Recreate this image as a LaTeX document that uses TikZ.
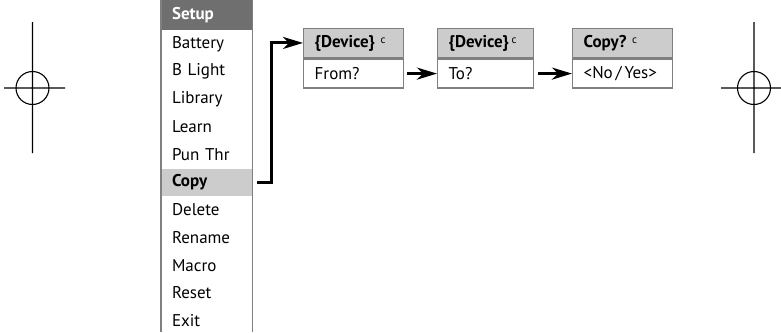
\documentclass[tikz,border=0pt]{standalone}
\usepackage{fontspec}
\setmainfont{PT Sans}
\usepackage{tikz}
\usetikzlibrary{positioning,arrows.meta}
\definecolor{headgray}{HTML}{6F6F6F}
\definecolor{lightgray}{HTML}{CCCCCC}
\definecolor{framegray}{HTML}{808080}
\newcommand{\menufont}{\fontsize{17}{19}\selectfont}
\tikzstyle{menuitem} = [minimum width=91pt, minimum height=27.3pt, text width=69pt, inner xsep=11pt, inner ysep=0pt, align=left, anchor=north, font=\menufont]
\tikzstyle{screenhead} = [draw=framegray, line width=1.4pt, fill=lightgray, minimum height=29.5pt, inner xsep=11pt, inner ysep=0pt, anchor=north west, align=left, font=\menufont\bfseries]
\tikzstyle{screenbody} = [draw=framegray, line width=1.4pt, minimum height=29pt, inner xsep=11pt, inner ysep=0pt, anchor=north, align=left, font=\menufont]
\tikzstyle{link} = [-{Stealth[length=20pt,width=12pt,inset=6pt]}, line width=3pt]
\newcommand{\cmark}{\raisebox{0.45ex}{\normalfont\fontsize{11}{12}\selectfont c}}

\begin{document}
\begin{tikzpicture}[x=1pt,y=-1pt]
\useasboundingbox (0,0) rectangle (781,332);

% menu
\node[menuitem, fill=headgray, text=white, minimum height=29.5pt, font=\menufont\bfseries] (setup) at (206.5,0) {Setup};
\node[menuitem, below=0pt of setup] (battery) {Battery};
\node[menuitem, below=0pt of battery] (blight) {B Light};
\node[menuitem, below=0pt of blight] (library) {Library};
\node[menuitem, below=0pt of library] (learn) {Learn};
\node[menuitem, below=0pt of learn] (punthr) {Pun Thr};
\node[menuitem, below=0pt of punthr, fill=lightgray, font=\menufont\bfseries] (copy) {Copy};
\node[menuitem, below=0pt of copy] (delete) {Delete};
\node[menuitem, below=0pt of delete] (rename) {Rename};
\node[menuitem, below=0pt of rename] (macro) {Macro};
\node[menuitem, below=0pt of macro] (reset) {Reset};
\node[menuitem, below=0pt of reset] (exit) {Exit};
\draw[framegray, line width=1.4pt] (setup.north west) -- (setup.north west |- 0,332);
\draw[framegray, line width=1.4pt] (setup.north east) -- (setup.north east |- 0,332);

% screens
\node[screenhead, minimum width=100pt, text width=78pt] (dev1) at (303,27.5) {\{Device\}~\cmark};
\node[screenbody, minimum width=100pt, text width=78pt, below=0pt of dev1] (from) {From?};
\node[screenhead, minimum width=96pt, text width=74pt] (dev2) at (437,27.5) {\{Device\}\,\cmark};
\node[screenbody, minimum width=96pt, text width=74pt, below=0pt of dev2] (to) {To?};
\node[screenhead, minimum width=100pt, text width=78pt] (ask) at (572,27.5) {Copy?~\cmark};
\node[screenbody, minimum width=100pt, text width=78pt, below=0pt of ask] (yesno) {\mbox{<No\,/\,Yes>}};

\draw[link, shorten <=5pt] (copy.east) -- ++(19.7,0) |- (dev1.west);
\draw[link, shorten <=3pt] (from.east) -- (to.west);
\draw[link, shorten <=4pt] (to.east) -- (yesno.west);

% register marks
\draw[line width=1.1pt] (32.5,22) -- (32.5,153) (4,88) -- (65,88) (32.5,88) circle (16.5);
\draw[line width=1.1pt] (754,22) -- (754,153) (721,88) -- (781,88) (754,88) circle (16.5);

\end{tikzpicture}
\end{document}
